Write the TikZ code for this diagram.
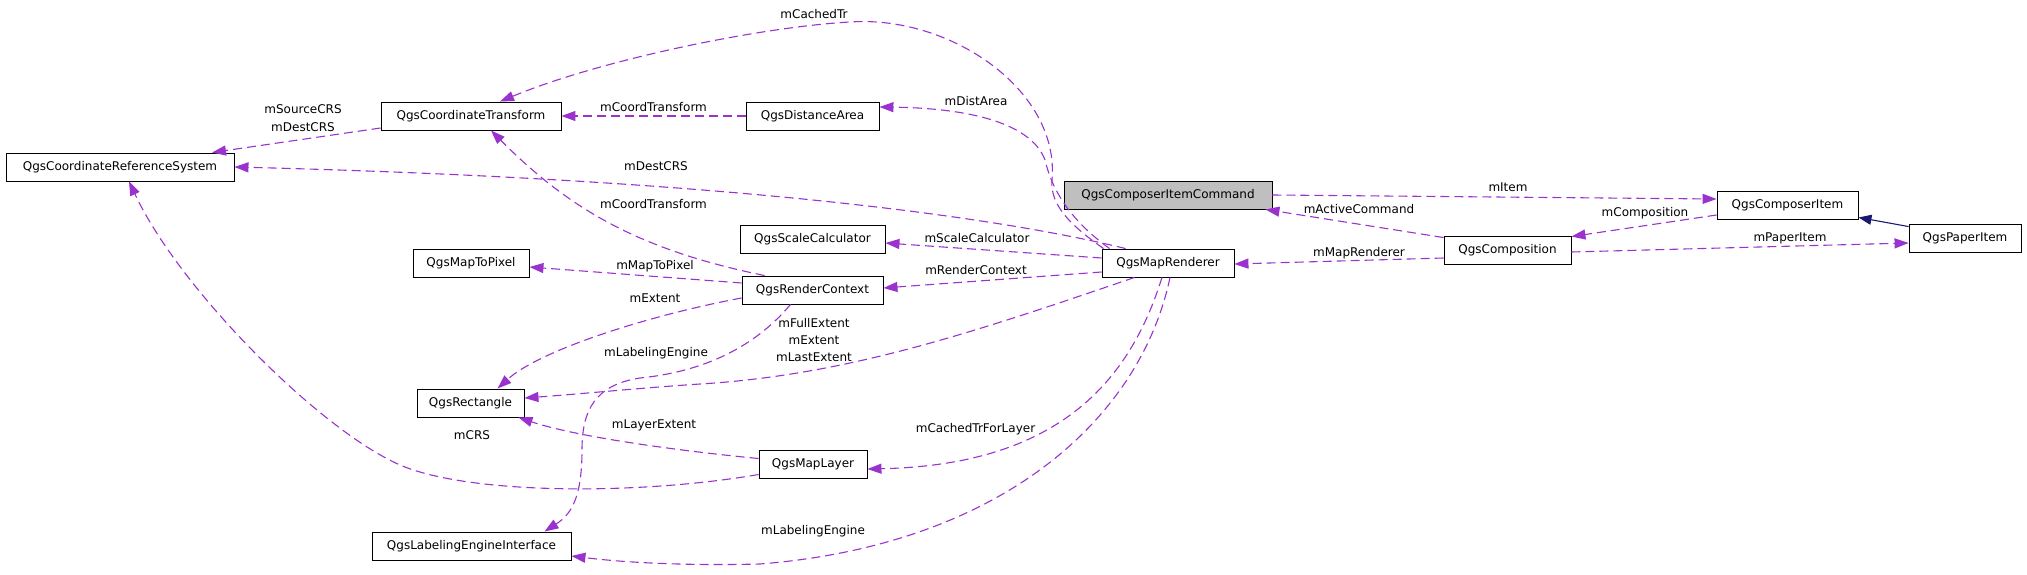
\documentclass[tikz,border=0pt]{standalone}
\usepackage{fontspec}
\setmainfont{DejaVu Sans}
\usetikzlibrary{arrows.meta,calc}
\definecolor{edgec}{HTML}{9A32CD}
\definecolor{inhc}{HTML}{191970}
\definecolor{grayfill}{HTML}{BFBFBF}
\begin{document}
\begin{tikzpicture}[x=1pt,y=-1pt,
  cls/.style={draw=black, line width=0.9pt, fill=white, minimum height=28pt, inner sep=0pt, font=\fontsize{12}{14}\selectfont},
  lbl/.style={font=\fontsize{12}{18}\selectfont, inner sep=0pt, align=center},
  uses/.style={draw=edgec, line width=1.1pt, dash pattern=on 9pt off 5pt, -{Triangle[length=14pt,width=10pt]}},
  inh/.style={draw=inhc, line width=1.1pt, -{Triangle[length=13pt,width=10pt]}},
]
\useasboundingbox (0,0) rectangle (2027,575);
% classes
\node[cls, minimum width=228pt] (crs) at (120,167) {QgsCoordinateReferenceSystem};
\node[cls, minimum width=180pt] (ct) at (471,116) {QgsCoordinateTransform};
\node[cls, minimum width=133pt] (da) at (812.5,116) {QgsDistanceArea};
\node[cls, minimum width=208pt, fill=grayfill] (cic) at (1168,195) {QgsComposerItemCommand};
\node[cls, minimum width=145pt] (sc) at (812.5,239) {QgsScaleCalculator};
\node[cls, minimum width=132pt] (mr) at (1168,263) {QgsMapRenderer};
\node[cls, minimum width=141pt] (rc) at (812.5,290) {QgsRenderContext};
\node[cls, minimum width=116pt] (mtp) at (471,263) {QgsMapToPixel};
\node[cls, minimum width=107pt] (rect) at (470.5,403) {QgsRectangle};
\node[cls, minimum width=199pt] (lei) at (471.5,546) {QgsLabelingEngineInterface};
\node[cls, minimum width=108pt] (ml) at (813,464.5) {QgsMapLayer};
\node[cls, minimum width=141pt] (ci) at (1787.5,205) {QgsComposerItem};
\node[cls, minimum width=112pt] (pi) at (1965,238) {QgsPaperItem};
\node[cls, minimum width=127pt] (comp) at (1507.5,250) {QgsComposition};
% edges
\draw[uses] ($(ct.west)+(0,12)$) -- ($(crs.north)+(92,0)$);
\draw[uses] (da.west) -- (ct.east);
\draw[uses] ($(mr.north west)+(2,0)$) .. controls (1070,225) and (1050,205) .. (1052,180)
   .. controls (1060,90) and (950,15) .. (850,22)
   .. controls (760,27) and (600,60) .. ($(ct.north)+(29,0)$);
\draw[uses] ($(mr.north west)+(8,0)$) .. controls (1070,220) and (1052,190) .. (1045,160)
   .. controls (1030,120) and (960,108) .. ($(da.east)+(0,-9)$);
\draw[uses] ($(mr.north west)+(24,0)$) .. controls (1010,220) and (750,180) .. (crs.east);
\draw[uses] ($(rc.north west)+(23,0)$) .. controls (640,250) and (570,210) .. ($(ct.south)+(20,0)$);
\draw[uses] ($(mr.west)+(0,-5)$) -- ($(sc.east)+(0,4)$);
\draw[uses] ($(mr.west)+(0,9)$) -- ($(rc.east)+(0,-2)$);
\draw[uses] ($(rc.west)+(0,-7)$) -- ($(mtp.east)+(0,4)$);
\draw[uses] ($(rc.west)+(0,8)$) .. controls (650,315) and (540,350) .. ($(rect.north)+(27,0)$);
\draw[uses] ($(rc.south)+(-22,0)$) .. controls (765,335) and (720,370) .. (640,378)
   .. controls (595,385) and (582,410) .. (582,450)
   .. controls (582,500) and (570,515) .. ($(lei.north)+(73,0)$);
\draw[uses] ($(mr.south west)+(33,0)$) .. controls (980,330) and (850,375) .. (700,384)
   .. controls (640,388) and (580,394) .. ($(rect.east)+(0,-5)$);
\draw[uses] ($(mr.south)+(-6,0)$) .. controls (1130,380) and (1060,465) .. ($(ml.east)+(0,4.5)$);
\draw[uses] ($(mr.south)+(2,0)$) .. controls (1140,420) and (1000,545) .. (760,564)
   .. controls (680,566) and (620,562) .. ($(lei.east)+(0,10)$);
\draw[uses] ($(ml.west)+(0,-6)$) .. controls (690,452) and (580,438) .. ($(rect.south east)+(-6,0)$);
\draw[uses] ($(ml.west)+(0,10)$) .. controls (640,495) and (470,495) .. (400,465)
   .. controls (320,430) and (180,290) .. ($(crs.south)+(9,0)$);
\draw[uses] ($(comp.north west)+(0,2)$) -- ($(cic.south east)+(-7,0)$);
\draw[uses] (cic.east) -- ($(ci.west)+(0,-6)$);
\draw[uses] ($(ci.west)+(0,10)$) -- ($(comp.north east)+(0,1)$);
\draw[uses] ($(comp.east)+(0,2)$) -- ($(pi.west)+(0,5)$);
\draw[uses] ($(comp.west)+(0,8)$) -- ($(mr.east)+(0,1)$);
\draw[inh] ($(pi.north west)+(0,3)$) -- ($(ci.south east)+(0,-2)$);
% labels
\node[lbl] (l1) at (303,118) {mSourceCRS\\mDestCRS};
\node[lbl] (l2) at (653.5,107) {mCoordTransform};
\node[lbl] (l3) at (814,14) {mCachedTr};
\node[lbl] (l4) at (976,101) {mDistArea};
\node[lbl] (l5) at (656,166) {mDestCRS};
\node[lbl] (l6) at (653.5,204) {mCoordTransform};
\node[lbl] (l7) at (977,238) {mScaleCalculator};
\node[lbl] (l8) at (976,270) {mRenderContext};
\node[lbl] (l9) at (655,266) {mMapToPixel};
\node[lbl] (l10) at (655,298) {mExtent};
\node[lbl] (l11) at (656,353) {mLabelingEngine};
\node[lbl, font=\fontsize{12}{17.3}\selectfont] (l12) at (814,340) {mFullExtent\\mExtent\\mLastExtent};
\node[lbl] (l13) at (654,425) {mLayerExtent};
\node[lbl] (l14) at (472,435) {mCRS};
\node[lbl] (l15) at (975.5,429) {mCachedTrForLayer};
\node[lbl] (l16) at (813,531) {mLabelingEngine};
\node[lbl] (l17) at (1359,209) {mActiveCommand};
\node[lbl] (l18) at (1359,253) {mMapRenderer};
\node[lbl] (l19) at (1508,187) {mItem};
\node[lbl] (l20) at (1645,213) {mComposition};
\node[lbl] (l21) at (1790,238) {mPaperItem};
\end{tikzpicture}
\end{document}
